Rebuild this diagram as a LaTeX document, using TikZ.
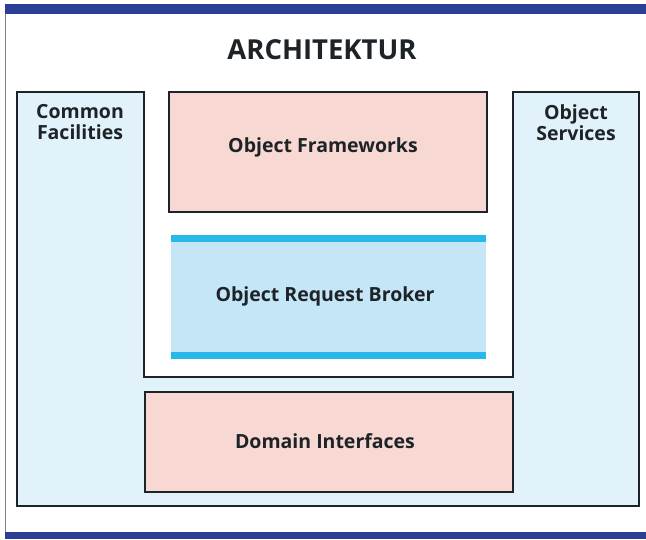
\documentclass[tikz,border=0pt]{standalone}
\usepackage{fontspec}
\setmainfont{Open Sans}
\usepackage{tikz}
\usetikzlibrary{positioning}

\definecolor{barblue}{HTML}{2B3F96}
\definecolor{sideblue}{HTML}{E2F2FB}
\definecolor{boxpink}{HTML}{F7D8D2}
\definecolor{orbblue}{HTML}{C4E6F6}
\definecolor{orbline}{HTML}{26B9EA}
\definecolor{txtdark}{HTML}{1E2328}

\tikzset{
  label/.style={font=\bfseries\fontsize{19.5}{21}\selectfont, text=txtdark, align=center},
  box/.style={draw=txtdark, line width=1.6pt}
}

\begin{document}
\begin{tikzpicture}[x=1pt,y=-1pt]
            \useasboundingbox[fill=white] (0,0) rectangle (646,539);

            % frame of the page
            \fill[barblue] (5,4) rectangle (646,14);
            \fill[barblue] (5,532) rectangle (646,539);
            \draw[gray, line width=1pt] (5,14) -- (5,532);

            \node[font=\bfseries\fontsize{27.5}{30}\selectfont, text=txtdark] (title) at (322,50) {ARCHITEKTUR};

            % the U around everything
            \draw[box, fill=sideblue] (17,92) -- (144,92) -- (144,377) -- (513,377)
                -- (513,92) -- (639,92) -- (639,506) -- (17,506) -- cycle;
            \node[label] (facil) at (80,122) {Common\\Facilities};
            \node[label] (serv) at (576,123) {Object\\Services};

            % Object Frameworks
            \draw[box, fill=boxpink] (169,92) rectangle (487,212);
            \node[label] (frame) at (323,147) {Object Frameworks};

            % ORB with its two bars
            \fill[orbblue] (171,239) rectangle (486,355);
            \fill[orbline] (171,235) rectangle (486,242);
            \fill[orbline] (171,352) rectangle (486,359);
            \node[label] (orb) at (325,296) {Object Request Broker};

            % Domain Interfaces
            \draw[box, fill=boxpink] (145,392) rectangle (513,492);
            \node[label] (domain) at (325,441) {Domain Interfaces};
        \end{tikzpicture}
\end{document}
